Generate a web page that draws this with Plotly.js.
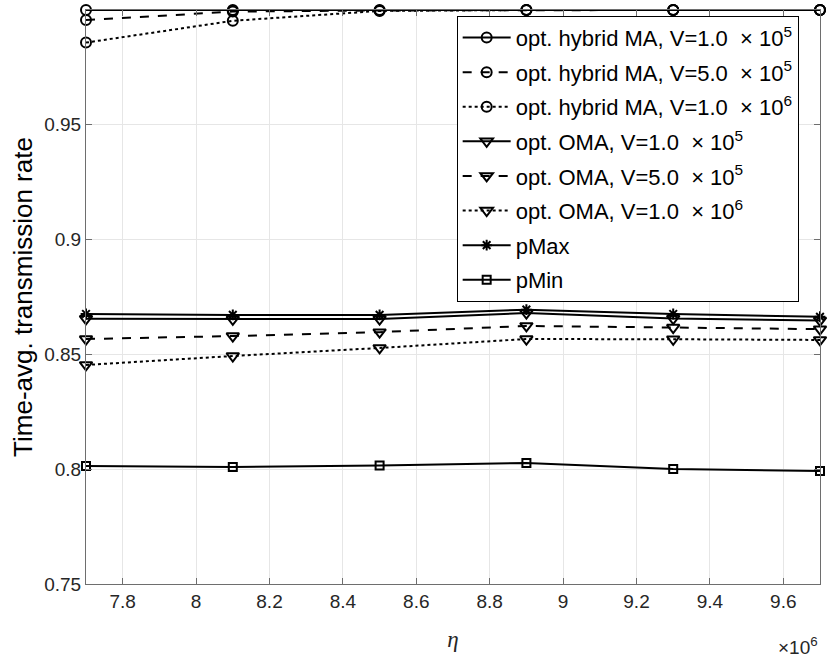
<!DOCTYPE html>
<html>
<head>
<meta charset="utf-8">
<script src="https://cdn.plot.ly/plotly-3.0.1.min.js"></script>
<style>html,body{margin:0;padding:0;background:#fff;}#chart{width:830px;height:661px;}</style>
</head>
<body>
<div id="chart"></div>
<script>
// eta in units of 1e6
const etaMillions = [7.7, 8.1, 8.5, 8.9, 9.3, 9.7];
const hybridV1e5 = [1.0, 1.0, 1.0, 1.0, 1.0, 1.0];
const hybridV5e5 = [0.9956, 0.9993, 0.9998, 1.0, 1.0, 1.0];
const hybridV1e6 = [0.9858, 0.9953, 0.9996, 1.0, 1.0, 1.0];
const omaV1e5 = [0.8655, 0.8653, 0.8654, 0.8680, 0.8656, 0.8648];
const omaV5e5 = [0.8567, 0.8580, 0.8597, 0.8624, 0.8617, 0.8610];
const omaV1e6 = [0.8454, 0.8493, 0.8528, 0.8567, 0.8566, 0.8563];
const pMax = [0.8676, 0.8672, 0.8672, 0.8695, 0.8676, 0.8664];
const pMin = [0.8014, 0.8010, 0.8016, 0.8027, 0.8001, 0.7992];

const names = [
  'opt. hybrid MA, V=1.0\u00a0 \u00d7 10<sup>5</sup>',
  'opt. hybrid MA, V=5.0\u00a0 \u00d7 10<sup>5</sup>',
  'opt. hybrid MA, V=1.0\u00a0 \u00d7 10<sup>6</sup>',
  'opt. OMA, V=1.0\u00a0 \u00d7 10<sup>5</sup>',
  'opt. OMA, V=5.0\u00a0 \u00d7 10<sup>5</sup>',
  'opt. OMA, V=1.0\u00a0 \u00d7 10<sup>6</sup>',
  'pMax',
  'pMin'
];
const series = [hybridV1e5, hybridV5e5, hybridV1e6, omaV1e5, omaV5e5, omaV1e6, pMax, pMin];
const dashes = ['solid','dash','dot','solid','dash','dot','solid','solid'];
const symbols = ['circle-open','circle-open','circle-open','triangle-down-open','triangle-down-open','triangle-down-open','asterisk-open','square-open'];
const sizes = [10,10,10,11,11,11,9,8];

const traces = series.map((ys, i) => ({
  x: etaMillions, y: ys, name: names[i], type: 'scatter', mode: 'lines+markers',
  line: {color: '#000', width: 2, dash: dashes[i]},
  marker: {symbol: symbols[i], size: sizes[i], color: '#000', line: {color: '#000', width: 2}},
  cliponaxis: false, legendgroup: 'g' + i
}));

const axisCol = '#6e6e6e';
const layout = {
  width: 830, height: 661,
  margin: {l: 86, r: 10, t: 10, b: 77},
  paper_bgcolor: '#fff', plot_bgcolor: '#fff',
  font: {family: 'Liberation Sans, Arial, sans-serif', color: '#262626', size: 19},
  showlegend: true,
  legend: {
    x: 0.505, y: 0.99, xanchor: 'left', yanchor: 'top',
    bordercolor: '#000', borderwidth: 1, bgcolor: '#fff',
    font: {size: 22, color: '#000'}, itemwidth: 48,
    traceorder: 'grouped', tracegroupgap: 3
  },
  xaxis: {
    range: [7.7, 9.7], tickvals: [7.8,8,8.2,8.4,8.6,8.8,9,9.2,9.4,9.6],
    ticktext: ['7.8','8','8.2','8.4','8.6','8.8','9','9.2','9.4','9.6'],
    showgrid: true, gridcolor: '#e6e6e6', gridwidth: 1,
    showline: true, linecolor: axisCol, linewidth: 1, mirror: 'ticks',
    ticks: 'inside', ticklen: 6, tickcolor: axisCol, zeroline: false,
    tickfont: {size: 19, color: '#262626'},
    title: {text: '<i>\u03b7</i>', font: {size: 23, family: 'Liberation Serif, serif'}, standoff: 20}
  },
  yaxis: {
    range: [0.75, 1], tickvals: [0.75,0.8,0.85,0.9,0.95,1],
    ticktext: ['0.75','0.8','0.85','0.9','0.95','1'],
    showgrid: true, gridcolor: '#e6e6e6', gridwidth: 1,
    showline: true, linecolor: axisCol, linewidth: 1, mirror: 'ticks',
    ticks: 'inside', ticklen: 6, tickcolor: axisCol, zeroline: false,
    tickfont: {size: 19, color: '#262626'},
    title: {text: 'Time-avg. transmission rate', font: {size: 26, color: '#000'}, standoff: 4}
  },
  annotations: [{
    text: '\u00d710<sup>6</sup>', xref: 'paper', yref: 'paper', x: 1, y: 0,
    xanchor: 'right', yanchor: 'top', yshift: -48, showarrow: false,
    font: {size: 19, color: '#262626'}
  }]
};

Plotly.newPlot('chart', traces, layout, {displayModeBar: false, staticPlot: true});
</script>
</body>
</html>
